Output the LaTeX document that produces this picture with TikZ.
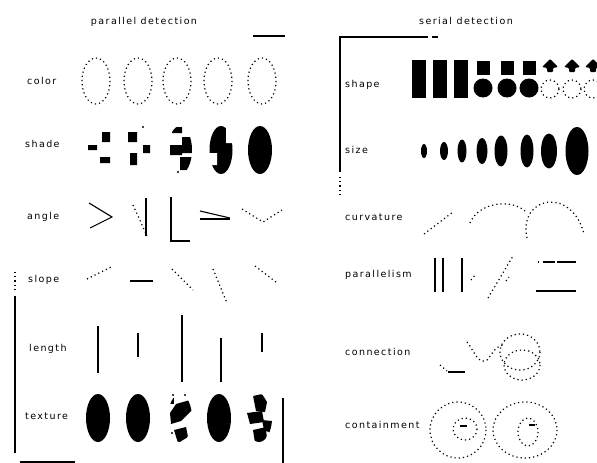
\documentclass[tikz,border=0pt]{standalone}
\usepackage{fontspec}
\newfontfamily\lblfont[LetterSpace=15]{DejaVu Sans}
\usetikzlibrary{positioning}

\begin{document}
\begin{tikzpicture}[
  x=1pt,y=-1pt,
  lbl/.style={font=\lblfont\fontsize{9.5}{11}\selectfont,inner sep=0pt},
  rowlbl/.style={lbl,anchor=west},
  frame/.style={line width=1.2pt},
  seg/.style={line width=1.1pt},
  dots/.style={line width=1.2pt,dash pattern=on 1.2pt off 3pt}
]
\useasboundingbox (0,0) rectangle (597,463);

% titles
\node[lbl] (partitle) at (144,22) {parallel detection};
\node[lbl] (sertitle) at (466,21) {serial detection};

% frame pieces
\draw[frame] (253,36) -- (285,36);
\draw[frame] (428,37) -- (340,37) -- (340,172);
\draw[frame] (432,37) -- (438,37);
\draw[frame,dash pattern=on 1.2pt off 3pt] (340,177) -- (340,195);
\draw[frame,dash pattern=on 1.2pt off 3pt] (15,272) -- (15,292);
\draw[frame] (15,296) -- (15,453);
\draw[frame] (20,462) -- (75,462);
\draw[frame] (283,398) -- (283,463);

% left row labels
\node[rowlbl] (lcolor) at (27,81) {color};
\node[rowlbl] (lshade) at (25,144) {shade};
\node[rowlbl] (langle) at (27,217) {angle};
\node[rowlbl] (lslope) at (28,280) {slope};
\node[rowlbl] (llength) at (29,349) {length};
\node[rowlbl] (ltexture) at (25,416) {texture};

% right row labels
\node[rowlbl] (rshape) at (345,85) {shape};
\node[rowlbl] (rsize) at (345,150) {size};
\node[rowlbl] (rcurv) at (345,217) {curvature};
\node[rowlbl] (rpar) at (345,275) {parallelism};
\node[rowlbl] (rconn) at (345,352) {connection};
\node[rowlbl] (rcont) at (345,425) {containment};

% color
\foreach \x in {96,138,177,218,262}
  \draw[dots] (\x,81) ellipse [x radius=14, y radius=23];

% shade
\fill (88,145) rectangle (97,150) (102,132) rectangle (110,142) (100,157) rectangle (110,163);
\fill (128,132) rectangle (137,142) (143,145) rectangle (150,153) (130,153) rectangle (137,165);
\fill (143,127) circle (1.2);
\begin{scope}
  \clip (180,150) ellipse [x radius=12, y radius=24];
  \fill (172,127) rectangle (182,133) (170,145) rectangle (182,155)
        (182,137) rectangle (193,153) (180,157) rectangle (193,170);
\end{scope}
\fill (178,172) circle (1.2);
\fill (221,150) ellipse [x radius=11.5, y radius=24];
\fill[white] (208,153) rectangle (217,165) (226,128) rectangle (234,143);
\fill (260,150) ellipse [x radius=12, y radius=24];

% angle
\draw[seg] (89,203) -- (112,217) -- (90,228);
\draw[dots] (133,205) -- (147,236);
\draw[seg] (146,198) -- (146,236);
\draw[seg] (171,197) -- (171,241) -- (190,241);
\draw[seg] (200,211) -- (230,218);
\draw[seg] (200,219) -- (230,219);
\draw[dots] (242,209) -- (263,222) -- (282,210);

% slope
\draw[dots] (87,279) -- (113,266);
\draw[seg] (130,281) -- (153,281);
\draw[dots] (172,269) -- (193,290);
\draw[dots] (213,269) -- (227,303);
\draw[dots] (255,266) -- (276,282);

% length
\draw[seg] (98,326) -- (98,373);
\draw[seg] (138,333) -- (138,357);
\draw[seg] (182,315) -- (182,382);
\draw[seg] (221,338) -- (221,382);
\draw[seg] (262,333) -- (262,352);

% texture
\foreach \x in {98,138,219}
  \fill (\x,418) ellipse [x radius=12, y radius=24];
\begin{scope}
  \clip (180,418) ellipse [x radius=12, y radius=24];
  \fill (168,398) rectangle (174,404);
  \fill (176,404) -- (190,400) -- (192,410) -- (181,421) -- (171,424) -- (170,413) -- cycle;
  \fill (174,430) -- (186,427) -- (188,437) -- (178,443) -- cycle;
\end{scope}
\fill (173,395) circle (1.2) (185,395) circle (1.2) (172,433) circle (1.2);
\begin{scope}
  \clip (259,418) ellipse [x radius=13, y radius=24];
  \fill (253,396) -- (262,394) -- (267,402) -- (265,412) -- (256,411) -- cycle;
  \fill (247,413) -- (262,411) -- (264,422) -- (250,424) -- cycle;
  \fill (262,420) -- (272,421) -- (271,433) -- (264,430) -- cycle;
  \fill (253,430) -- (266,427) -- (267,441) -- (255,443) -- cycle;
\end{scope}

% shape
\foreach \x in {419,440,461}
  \fill (\x-7,60) rectangle (\x+7,98);
\foreach \x in {483,507,529} {
  \fill (\x-6.5,61) rectangle (\x+6.5,75);
  \fill (\x,88) circle (9.5);
}
\foreach \x in {550,572,593} {
  \fill[rounded corners=1pt] (\x,59) -- (\x+8,67) -- (\x+3,68) -- (\x+3,72)
    -- (\x-3,72) -- (\x-3,68) -- (\x-8,67) -- cycle;
  \draw[dots] (\x,89) circle (9);
}

% size
\foreach \x/\rx/\ry in {424/3/7, 444/4/9, 462/4.5/11.5, 482/5.5/13,
                        501/6.5/15.5, 527/6.5/16.5, 549/8/17.5, 577/11.5/24}
  \fill (\x,151) ellipse [x radius=\rx, y radius=\ry];

% curvature
\draw[dots] (424,234) -- (453,212);
\draw[dots] (470,223) .. controls (478,203) and (510,198) .. (525,211);
\draw[dots] (527,238) .. controls (518,196) and (572,186) .. (584,234);

% parallelism
\draw[seg] (435,258) -- (435,292);
\draw[seg] (443,258) -- (443,292);
\draw[seg] (462,258) -- (462,292);
\draw[dots] (471,280) -- (476,274);
\draw[dots] (488,298) -- (513,256);
\draw[dots] (506,281) -- (509,277);
\draw[seg] (538,262) -- (539,262);
\draw[seg] (543,262) -- (555,262);
\draw[seg] (557,262) -- (576,262);
\draw[seg] (536,291) -- (576,291);

% connection
\draw[dots] (440,365) -- (447,371);
\draw[seg] (448,372) -- (465,372);
\draw[dots] (467,342) .. controls (475,352) and (478,365) .. (487,360)
  .. controls (492,355) and (495,345) .. (505,345);
\draw[dots] (520,352) ellipse [x radius=20, y radius=18];
\draw[dots] (522,365) ellipse [x radius=18, y radius=15];

% containment
\draw[dots] (458,430) ellipse [x radius=28, y radius=28];
\draw[dots] (465,429) ellipse [x radius=12, y radius=11];
\draw[seg] (460,426) -- (467,426);
\draw[dots] (525,430) ellipse [x radius=32, y radius=28];
\draw[dots] (528,432) ellipse [x radius=10, y radius=14];
\draw[seg] (529,425) -- (535,425);
\end{tikzpicture}
\end{document}
